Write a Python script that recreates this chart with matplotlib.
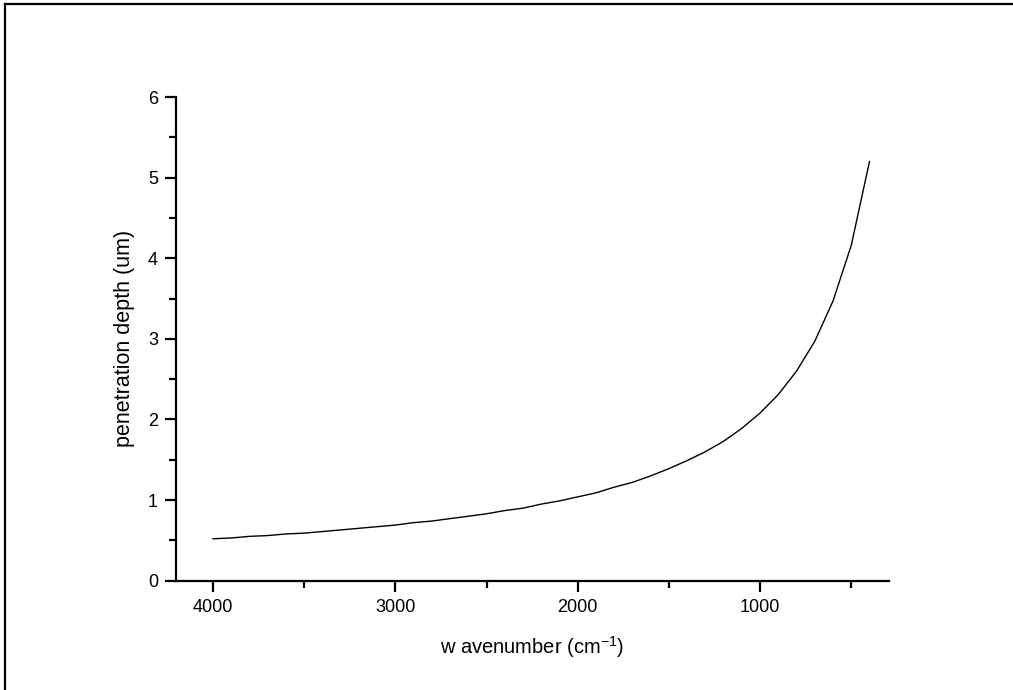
import matplotlib.pyplot as plt
from matplotlib.lines import Line2D
from matplotlib.ticker import MultipleLocator

plt.rcParams["font.family"] = ["Liberation Sans", "DejaVu Sans"]
plt.rcParams["mathtext.fontset"] = "custom"
plt.rcParams["mathtext.rm"] = "Liberation Sans"

# wavenumber (cm^-1) and penetration depth (um)
wavenumber = [4000, 3900, 3800, 3700, 3600, 3500, 3400, 3300, 3200, 3100,
              3000, 2900, 2800, 2700, 2600, 2500, 2400, 2300, 2200, 2100,
              2000, 1900, 1800, 1700, 1600, 1500, 1400, 1300, 1200, 1100,
              1000, 900, 800, 700, 600, 500, 400]
depth = [0.52, 0.53, 0.55, 0.56, 0.58, 0.59, 0.61, 0.63, 0.65, 0.67,
         0.69, 0.72, 0.74, 0.77, 0.80, 0.83, 0.87, 0.90, 0.95, 0.99,
         1.04, 1.09, 1.16, 1.22, 1.30, 1.39, 1.49, 1.60, 1.73, 1.89,
         2.08, 2.31, 2.60, 2.97, 3.47, 4.16, 5.20]

fig = plt.figure(figsize=(10.13, 6.9), dpi=100)
ax = fig.add_axes([0.1737, 0.1584, 0.7039, 0.7010])

ax.plot(wavenumber, depth, color="black", linewidth=1.0)

ax.set_xlim(4203, 293)
ax.set_ylim(0, 6)
ax.xaxis.set_major_locator(MultipleLocator(1000))
ax.xaxis.set_minor_locator(MultipleLocator(500))
ax.yaxis.set_major_locator(MultipleLocator(1))
ax.yaxis.set_minor_locator(MultipleLocator(0.5))

for side in ["top", "right"]:
    ax.spines[side].set_visible(False)
for side in ["left", "bottom"]:
    ax.spines[side].set_linewidth(1.6)

ax.tick_params(which="major", direction="out", length=8, width=1.6,
               labelsize=13, pad=5)
ax.tick_params(which="minor", direction="out", length=5, width=1.6)

ax.set_xlabel("w avenumber (cm$^{-1}$)", fontsize=14.5, labelpad=13)
ax.set_ylabel("penetration depth (um)", fontsize=15.5, labelpad=9)

# frame lines on the top and left of the picture
fig.add_artist(Line2D([5 / 1013, 1], [1 - 4 / 690, 1 - 4 / 690],
                      transform=fig.transFigure, color="black", linewidth=1.6))
fig.add_artist(Line2D([5 / 1013, 5 / 1013], [0, 1 - 4 / 690],
                      transform=fig.transFigure, color="black", linewidth=1.6))

fig.savefig("out.png", dpi=100)
